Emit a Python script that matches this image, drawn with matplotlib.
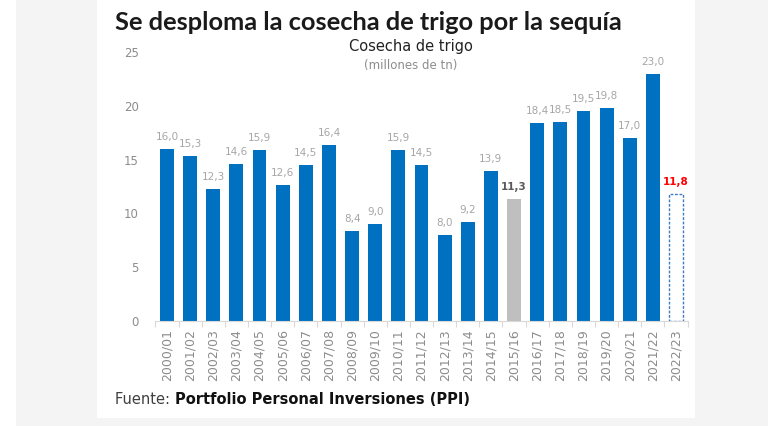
import matplotlib
matplotlib.use("Agg")
import matplotlib.pyplot as plt
from matplotlib.patches import Rectangle

plt.rcParams['font.family'] = ['DejaVu Sans']

campaigns = ["2000/01", "2001/02", "2002/03", "2003/04", "2004/05", "2005/06", "2006/07",
             "2007/08", "2008/09", "2009/10", "2010/11", "2011/12", "2012/13", "2013/14",
             "2014/15", "2015/16", "2016/17", "2017/18", "2018/19", "2019/20", "2020/21",
             "2021/22", "2022/23"]
harvest = [16.0, 15.3, 12.3, 14.6, 15.9, 12.6, 14.5, 16.4, 8.4, 9.0, 15.9, 14.5, 8.0, 9.2,
           13.9, 11.3, 18.4, 18.5, 19.5, 19.8, 17.0, 23.0, 11.8]
value_labels = ["16,0", "15,3", "12,3", "14,6", "15,9", "12,6", "14,5", "16,4", "8,4", "9,0",
                "15,9", "14,5", "8,0", "9,2", "13,9", "11,3", "18,4", "18,5", "19,5", "19,8",
                "17,0", "23,0", "11,8"]
yticks = [0, 5, 10, 15, 20, 25]

W, H = 768, 426
fig = plt.figure(figsize=(W / 100, H / 100), dpi=100, facecolor='white')

# background panels
fig.patches.append(Rectangle((16 / W, 0), 1 - 16 / W, 1, transform=fig.transFigure,
                             facecolor='#f4f4f4', edgecolor='none', zorder=-3))
fig.patches.append(Rectangle((97 / W, 8 / H), (695 - 97) / W, 1 - 8 / H, transform=fig.transFigure,
                             facecolor='white', edgecolor='none', zorder=-2))

left, right = 155.4 / W, 687.6 / W
bottom, top = 1 - 321 / H, 1 - 52 / H
ax = fig.add_axes([left, bottom, right - left, top - bottom])
ax.set_facecolor('none')

blue = '#0070c0'
x = list(range(len(campaigns)))
colors = [blue] * len(campaigns)
colors[15] = '#bfbfbf'
ax.bar(x[:-1], harvest[:-1], width=0.6, color=colors[:-1], zorder=2)
ax.bar(x[-1], harvest[-1], width=0.6, facecolor='white', edgecolor='#3a7cc0',
       linestyle=(0, (2, 1.2)), linewidth=1.0, zorder=2)

for i, (v, lab) in enumerate(zip(harvest, value_labels)):
    color, weight = '#a6a6a6', 'normal'
    if i == 15:
        color, weight = '#595959', 'bold'
    if i == len(harvest) - 1:
        color, weight = '#ff0000', 'bold'
    ax.annotate(lab, (i, v), xytext=(0, 5), textcoords='offset points',
                ha='center', va='bottom', fontsize=7.5, color=color, fontweight=weight)

ax.set_xlim(-0.5, len(campaigns) - 0.5)
ax.set_ylim(0, 25)
ax.set_yticks(yticks)
ax.set_yticklabels([str(t) for t in yticks], fontsize=8.5, color='#8c8c8c')
ax.tick_params(axis='y', length=0, pad=12)

ax.set_xticks(x)
ax.set_xticklabels(campaigns, rotation=90, fontsize=9, color='#8c8c8c')
ax.tick_params(axis='x', length=0, pad=6)
ax.set_xticks([i + 0.5 for i in range(-1, len(campaigns))], minor=True)
ax.tick_params(axis='x', which='minor', length=4, color='#e0d6d6', width=0.8)

for s in ['top', 'right', 'left']:
    ax.spines[s].set_visible(False)
ax.spines['bottom'].set_color('#d9d9d9')
ax.spines['bottom'].set_linewidth(0.8)

fig.text(115 / W, 1 - 30 / H, "Se desploma la cosecha de trigo por la sequía",
         fontsize=18.3, fontweight='bold', color='#1a1a1a', ha='left', va='baseline',
         family=['Lato', 'DejaVu Sans'])
fig.text(411 / W, 1 - 47 / H, "Cosecha de trigo", fontsize=10.5, color='#222222',
         ha='center', va='center')
fig.text(411 / W, 1 - 65 / H, "(millones de tn)", fontsize=8.5, color='#8c8c8c',
         ha='center', va='center')

t1 = fig.text(115 / W, 1 - 400 / H, "Fuente: ", fontsize=10.5, color='#404040',
              ha='left', va='center')
fig.canvas.draw()
bb = t1.get_window_extent(renderer=fig.canvas.get_renderer())
fig.text(bb.x1 / W, 1 - 400 / H, "Portfolio Personal Inversiones (PPI)", fontsize=10.5,
         fontweight='bold', color='#111111', ha='left', va='center')

fig.savefig('out.png', dpi=100, facecolor=fig.get_facecolor())
